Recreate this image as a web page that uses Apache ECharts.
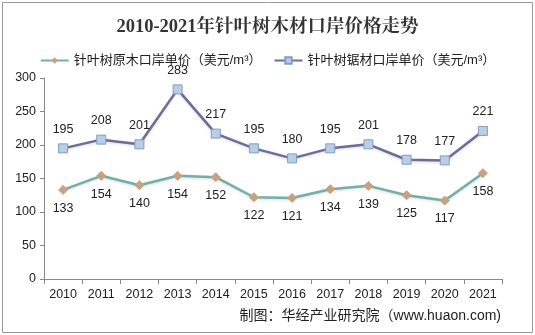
<!DOCTYPE html>
<html><head><meta charset="utf-8">
<script src="https://cdn.jsdelivr.net/npm/echarts@6/dist/echarts.min.js"></script>
<style>html,body{margin:0;padding:0;background:#fff}#c{width:535px;height:335px}</style>
</head><body><div id="c"></div>
<script>
const years = ['2010','2011','2012','2013','2014','2015','2016','2017','2018','2019','2020','2021'];
const logPrice = [133,154,140,154,152,122,121,134,139,125,117,158];
const lumberPrice = [195,208,201,283,217,195,180,195,201,178,177,221];
const yTicks = {min:0,max:300,interval:50};
const chart = echarts.init(document.getElementById('c'));
const font = 'Arial, "Liberation Sans", "Noto Sans CJK SC", sans-serif';
chart.setOption({
  animation:false,
  backgroundColor:'#fff',
  title:{text:'2010-2021年针叶树木材口岸价格走势',left:'center',top:13,
    textStyle:{fontFamily:'"Liberation Serif","Noto Serif CJK SC","Noto Sans CJK SC",serif',fontSize:18.5,fontWeight:'bold',color:'#333'}},
  legend:{top:49,left:'center',itemWidth:28,itemHeight:8,itemGap:12,
    textStyle:{fontFamily:font,fontSize:13,color:'#222'},
    data:['针叶树原木口岸单价（美元/m³）','针叶树锯材口岸单价（美元/m³）']},
  grid:{left:44,right:33,top:78,bottom:56},
  xAxis:{type:'category',data:years,boundaryGap:true,
    axisLine:{lineStyle:{color:'#888'}},axisTick:{show:true,length:5,lineStyle:{color:'#888'}},
    axisLabel:{fontFamily:font,fontSize:12.5,color:'#222',margin:9}},
  yAxis:{type:'value',min:yTicks.min,max:yTicks.max,interval:yTicks.interval,
    axisLine:{show:true,lineStyle:{color:'#888'}},axisTick:{show:true,length:4,lineStyle:{color:'#888'}},
    splitLine:{show:false},
    axisLabel:{fontFamily:font,fontSize:12.5,color:'#222',margin:8}},
  series:[
    {name:'针叶树原木口岸单价（美元/m³）',type:'line',data:logPrice,
     symbol:'diamond',symbolSize:9,
     lineStyle:{color:'#6FB0A8',width:2.5,shadowColor:'rgba(0,0,0,0.15)',shadowBlur:3,shadowOffsetY:1},
     itemStyle:{color:'#C8A27C',borderColor:'#C8A27C'},
     label:{show:true,position:'bottom',distance:7,fontFamily:font,fontSize:12.5,color:'#222'}},
    {name:'针叶树锯材口岸单价（美元/m³）',type:'line',data:lumberPrice,
     symbol:'rect',symbolSize:9,
     lineStyle:{color:'#6A6C9C',width:2.5,shadowColor:'rgba(0,0,0,0.15)',shadowBlur:3,shadowOffsetY:1},
     itemStyle:{color:'#B9CDE5',borderColor:'#7F9FC7',borderWidth:1},
     label:{show:true,position:'top',distance:8,fontFamily:font,fontSize:12.5,color:'#222'}}
  ],
  graphic:[
    {type:'rect',shape:{x:2.5,y:2.5,width:530,height:330},style:{fill:'none',stroke:'#999',lineWidth:1},silent:true},
    {type:'text',right:34,top:309,style:{text:'制图：华经产业研究院（www.huaon.com)',font:'14px '+font,fill:'#222'}}
  ]
});
</script></body></html>
